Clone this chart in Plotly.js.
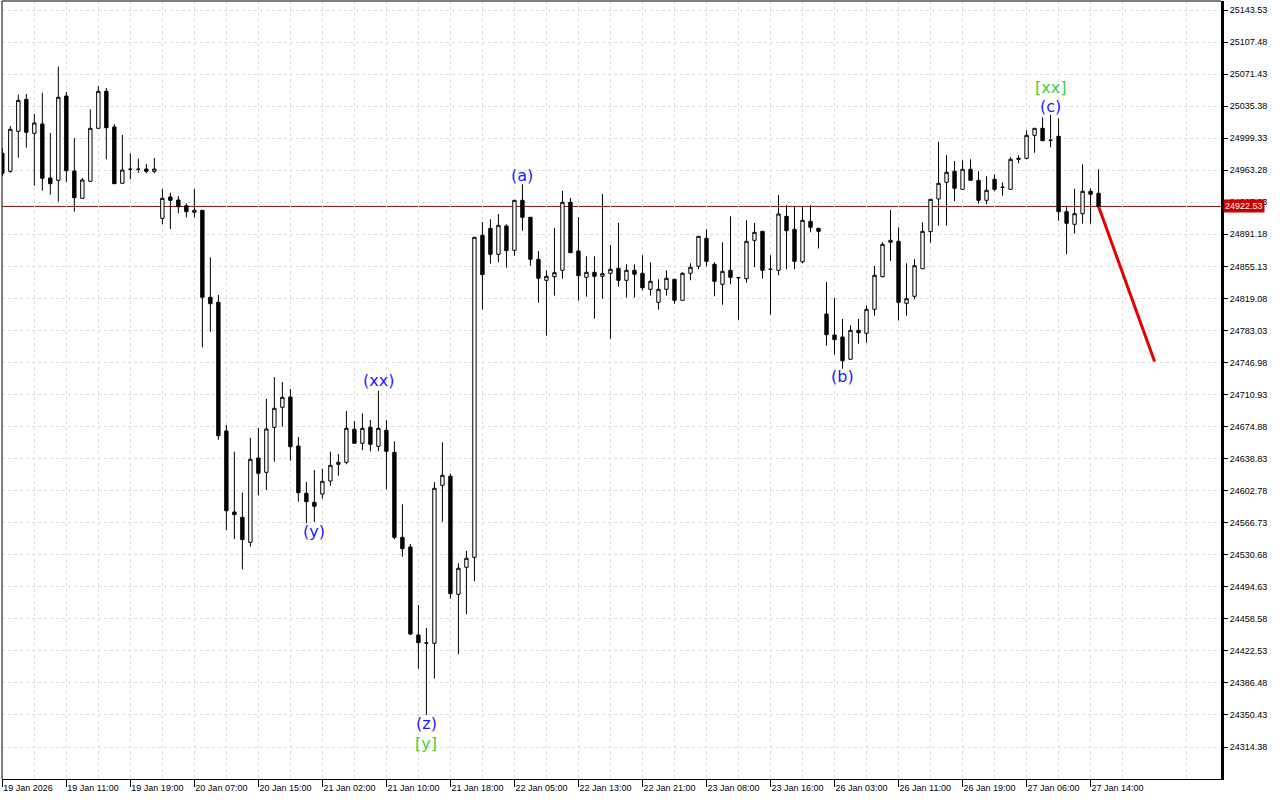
<!DOCTYPE html>
<html><head><meta charset="utf-8">
<script src="https://cdn.plot.ly/plotly-3.0.1.min.js"></script>
<style>html,body{margin:0;padding:0;background:#fff;}#chart{width:1280px;height:800px;}</style>
</head><body><div id="chart"></div>
<script>
const openP = [24982.3,24962.07,25007.07,25043.07,25004.82,25015.28,24954.53,24951.94,25046.78,24962.4,
24931.69,24950.82,25010.44,25052.07,25011.9,24948.57,24964.32,24964.32,24964.65,24962.07,
24909.19,24933.15,24929.78,24923.37,24915.94,24918.19,24820.32,24814.69,24669.9,24578.78,
24572.82,24544.69,24639.53,24623.44,24674.07,24696.57,24708.15,24653.03,24599.82,24589.69,
24599.03,24613.65,24632.44,24634.69,24671.82,24656.07,24674.07,24652.69,24670.69,24645.94,
24550.32,24539.4,24440.4,24431.4,24431.07,24608.82,24618.94,24486.19,24516.57,24527.82,
24890.07,24897.94,24868.69,24900.53,24873.19,24929.44,24910.32,24863.07,24839.44,24843.49,
24850.69,24927.19,24872.4,24842.82,24848.44,24843.94,24847.32,24852.94,24839.44,24850.69,
24847.32,24829.32,24814.69,24829.32,24840.57,24816.94,24847.32,24855.19,24886.69,24857.44,
24834.94,24850.69,24842.37,24841.24,24884.44,24894.57,24851.82,24850.69,24911.44,24896.82,
24860.25,24905.82,24897.94,24801.53,24777.9,24775.65,24750.57,24783.19,24779.82,24806.82,
24843.49,24882.19,24883.32,24813.57,24821.44,24852.49,24894.12,24930.9,24949.69,24962.07,
24941.82,24964.32,24951.94,24929.44,24953.07,24944.07,24941.82,24976.69,24976.69,25002.57,
25010.44,24996.94,25001.44,24916.62,24902.44,24914.37,24939.57,24937.32];
const highP = [24988.3,25013.03,25048.24,25049.03,25026.53,25050.49,25005.15,25079.74,25051.28,24999.53,
24954.53,25031.82,25058.03,25055.78,25014.94,25002.9,24982.32,24976.24,24970.28,24977.03,
24942.15,24937.99,24934.28,24926.07,24942.15,24918.19,24865.32,24822.9,24676.65,24646.62,
24600.49,24662.37,24673.28,24705.9,24730.65,24725.03,24717.15,24663.15,24612.53,24626.03,
24627.49,24646.62,24644.03,24692.4,24681.15,24689.82,24682.28,24715.24,24681.94,24658.32,
24587.44,24542.78,24474.15,24448.28,24612.53,24657.19,24621.87,24521.07,24534.9,24887.82,
24905.03,24908.07,24914.03,24902.44,24929.44,24947.44,24910.32,24872.4,24850.69,24898.28,
24939.9,24932.03,24910.65,24866.44,24866.44,24936.53,24879.15,24903.9,24857.44,24857.44,
24867.57,24859.69,24840.57,24850.69,24840.57,24848.44,24858.57,24888.94,24896.82,24859.69,
24882.19,24911.44,24843.15,24906.94,24903.9,24894.57,24867.57,24935.4,24924.15,24923.03,
24923.03,24924.15,24897.94,24837.53,24819.53,24795.9,24788.82,24795.9,24811.32,24855.53,
24882.19,24918.53,24899.07,24858.57,24863.07,24904.69,24930.57,24995.37,24980.07,24973.65,
24974.44,24975.57,24962.07,24956.44,24958.69,24949.69,24977.82,24980.07,25008.19,25010.44,
25022.82,25025.74,25021.69,24923.37,24942.49,24969.94,24942.94,24964.32];
const lowP = [24956.8,24960.49,24977.37,24988.62,24945.87,24940.24,24935.74,24927.87,24950.03,24916.62,
24931.69,24950.82,25010.44,24975.57,24948.12,24948.57,24953.07,24960.49,24959.82,24959.82,
24902.44,24897.15,24914.82,24910.32,24910.32,24764.07,24781.62,24660.12,24558.53,24548.4,
24514.32,24539.74,24597.57,24603.53,24635.37,24674.74,24636.49,24590.37,24566.07,24567.53,
24593.74,24608.37,24619.62,24632.44,24656.07,24648.19,24647.07,24647.07,24604.32,24548.07,
24528.49,24440.4,24402.49,24350.4,24391.24,24567.87,24481.24,24418.69,24463.69,24500.82,
24806.37,24858.12,24859.69,24853.62,24867.12,24895.24,24855.87,24814.24,24777.12,24822.12,
24841.24,24870.49,24816.49,24820.99,24796.24,24818.74,24773.74,24832.47,24820.09,24820.09,
24828.19,24822.12,24806.37,24822.12,24813.12,24816.94,24839.44,24851.82,24855.19,24821.44,
24811.99,24834.94,24795.12,24836.74,24854.07,24841.24,24800.74,24845.07,24851.82,24851.82,
24858.57,24893.44,24875.22,24765.87,24755.74,24739.99,24750.57,24768.12,24769.24,24799.62,
24842.82,24861.15,24794.44,24799.62,24818.07,24852.49,24881.74,24900.87,24900.87,24928.32,
24941.82,24951.94,24925.62,24924.94,24939.57,24934.62,24941.82,24971.07,24975.57,24982.99,
24996.49,24989.07,24906.49,24868.69,24891.87,24903.12,24903.12,24922.53];
const closeP = [24959.8,25009.32,25041.94,25005.94,25016.4,24954.19,24948.12,25045.32,24962.74,24932.37,
24952.28,25010.44,25052.07,25011.12,24948.12,24963.53,24964.32,24964.32,24962.07,24964.65,
24931.69,24929.44,24922.24,24916.62,24918.19,24820.32,24813.12,24664.62,24580.24,24575.74,
24547.62,24638.07,24622.32,24672.15,24695.44,24707.82,24652.24,24600.49,24590.37,24585.19,
24613.32,24631.32,24634.69,24672.94,24656.07,24672.94,24654.94,24672.94,24647.07,24550.32,
24537.49,24441.53,24431.74,24431.4,24605.44,24620.07,24486.87,24515.44,24526.69,24887.82,
24845.74,24868.69,24901.32,24872.74,24929.44,24910.32,24863.07,24841.69,24843.94,24847.99,
24927.19,24870.49,24844.62,24848.44,24843.94,24846.87,24851.82,24839.44,24850.69,24846.19,
24831.12,24838.32,24829.32,24841.69,24816.94,24847.32,24854.07,24888.94,24860.82,24838.32,
24849.57,24842.82,24842.37,24883.32,24893.44,24850.69,24851.82,24914.03,24895.24,24860.82,
24906.94,24899.07,24894.57,24778.24,24772.62,24748.99,24783.19,24780.49,24806.82,24845.07,
24879.94,24884.44,24814.69,24818.74,24855.87,24894.57,24930.57,24948.57,24960.94,24942.94,
24964.32,24951.94,24929.44,24940.69,24941.82,24944.07,24975.57,24975.57,25002.57,25010.44,
24996.49,24996.94,24916.62,24903.57,24914.37,24939.57,24936.19,24922.53];

const dateLabels = ["19 Jan 2026","19 Jan 11:00","19 Jan 19:00","20 Jan 07:00","20 Jan 15:00",
"21 Jan 02:00","21 Jan 10:00","21 Jan 18:00","22 Jan 05:00","22 Jan 13:00","22 Jan 21:00",
"23 Jan 08:00","23 Jan 16:00","26 Jan 03:00","26 Jan 11:00","26 Jan 19:00","27 Jan 06:00","27 Jan 14:00"];
const priceTicks = [25143.53,25107.48,25071.43,25035.38,24999.33,24963.28,24927.23,24891.18,24855.13,
24819.08,24783.03,24746.98,24710.93,24674.88,24638.83,24602.78,24566.73,24530.68,24494.63,
24458.58,24422.53,24386.48,24350.43,24314.38];
const currentPrice = 24922.53;
const forecastBar = [137, 144];
const forecastPrice = [24922.53, 24748.0];

const waveText  = ["(a)","(xx)","(y)","(z)","[y]","(b)","(c)","[xx]"];
const waveBar   = [65, 47, 39, 53, 53, 105, 131, 131];
const wavePrice = [24956.8, 24726.2, 24556.3, 24341.4, 24318.9, 24730.7, 25035.5, 25056.9];
const waveColor = ["#1a1aff","#1a1aff","#1a1aff","#1a1aff","#3fcf3f","#1a1aff","#1a1aff","#3fcf3f"];

const barIdx = openP.map((_, i) => i);
const dateTickVals = dateLabels.map((_, i) => i * 8);

const traces = [
  {
    type: 'candlestick', x: barIdx, open: openP, high: highP, low: lowP, close: closeP,
    increasing: {line: {color: '#000000', width: 1}, fillcolor: '#ffffff'},
    decreasing: {line: {color: '#000000', width: 1}, fillcolor: '#000000'},
    whiskerwidth: 0, hoverinfo: 'skip', showlegend: false
  },
  {
    type: 'scatter', mode: 'lines', x: forecastBar, y: forecastPrice,
    line: {color: '#e60000', width: 3}, hoverinfo: 'skip', showlegend: false
  }
];

const gridCol = '#dcdcdc';
const layout = {
  width: 1280, height: 800,
  margin: {l: 2, r: 59, t: 1, b: 21, pad: 0},
  paper_bgcolor: '#ffffff', plot_bgcolor: '#ffffff',
  showlegend: false, boxgap: 0.4,
  font: {family: 'Liberation Sans, Arial, sans-serif', size: 9, color: '#000000'},
  xaxis: {
    type: 'linear', range: [-0.04, 152.3], fixedrange: true,
    rangeslider: {visible: false},
    tickmode: 'array', tickvals: dateTickVals, ticktext: dateLabels,
    ticks: 'outside', ticklen: 7, tickcolor: '#000000', tickwidth: 1,
    ticklabelposition: 'outside right',
    showgrid: true, gridcolor: gridCol, griddash: '3px,3px', gridwidth: 1,
    minor: {tickmode: 'linear', tick0: 4, dtick: 8, showgrid: true, gridcolor: gridCol, griddash: '3px,3px', ticks: ''},
    showline: true, linecolor: '#000000', linewidth: 1, zeroline: false,
    tickfont: {family: 'Liberation Sans, Arial, sans-serif', size: 9, color: '#000000'}
  },
  yaxis: {
    side: 'right', range: [24278.4, 25153.66], fixedrange: true,
    tickmode: 'array', tickvals: priceTicks, ticktext: priceTicks.map(v => v.toFixed(2)),
    ticks: 'outside', ticklen: 4, tickcolor: '#000000', tickwidth: 1,
    showgrid: true, gridcolor: gridCol, griddash: '3px,3px', gridwidth: 1,
    showline: true, linecolor: '#000000', linewidth: 3, zeroline: false,
    tickfont: {family: 'Liberation Sans, Arial, sans-serif', size: 9, color: '#000000'}
  },
  shapes: [
    {type: 'line', xref: 'paper', x0: 0, x1: 1, yref: 'y', y0: currentPrice, y1: currentPrice,
     line: {color: '#8c1010', width: 1}, layer: 'below'},
    {type: 'line', xref: 'paper', x0: 0, x1: 0, yref: 'paper', y0: 0, y1: 1, line: {color: '#000000', width: 1}},
    {type: 'line', xref: 'paper', x0: 0, x1: 1, yref: 'paper', y0: 1, y1: 1, line: {color: '#000000', width: 1}}
  ],
  annotations: waveText.map((t, i) => ({
    text: t, x: waveBar[i], y: wavePrice[i], xref: 'x', yref: 'y',
    showarrow: false, xanchor: 'center', yanchor: 'middle',
    font: {family: 'DejaVu Sans, sans-serif', size: 16, color: waveColor[i]}
  })).concat([{
    text: currentPrice.toFixed(2), xref: 'paper', x: 1, xanchor: 'left', xshift: 2,
    yref: 'y', y: currentPrice, yanchor: 'middle', showarrow: false,
    bgcolor: '#c80000', borderpad: 1,
    font: {family: 'Liberation Sans, Arial, sans-serif', size: 9, color: '#ffffff'}
  }])
};

Plotly.newPlot('chart', traces, layout, {staticPlot: true, displayModeBar: false});
</script>
</body></html>
